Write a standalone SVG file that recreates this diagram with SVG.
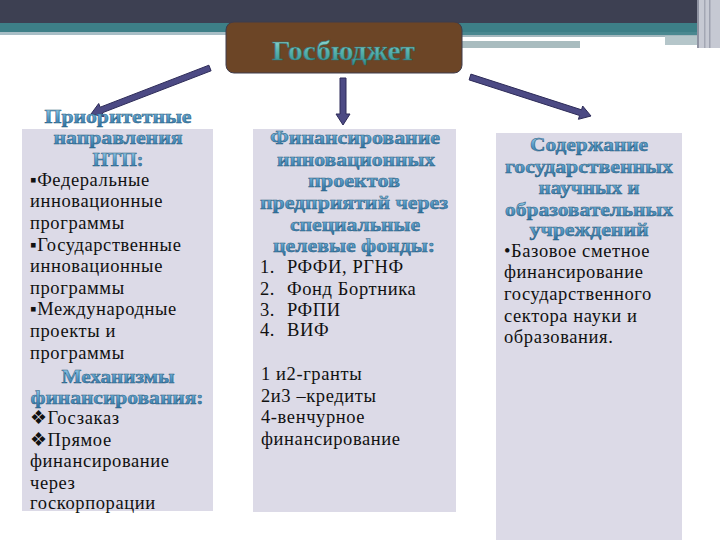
<svg xmlns="http://www.w3.org/2000/svg" width="720" height="540" viewBox="0 0 720 540">
<defs>
<linearGradient id="hg" x1="0" y1="0" x2="0" y2="1">
<stop offset="0" stop-color="#a8dbf2"/>
<stop offset="0.5" stop-color="#5a9fcb"/>
<stop offset="1" stop-color="#2c6f9e"/>
</linearGradient>
<linearGradient id="tg" x1="0" y1="0" x2="0" y2="1">
<stop offset="0" stop-color="#9fe0da"/>
<stop offset="0.5" stop-color="#5ab3b0"/>
<stop offset="1" stop-color="#2f8a8a"/>
</linearGradient>
<style>
.panel{fill:#dcdae7}
.head{font-family:"Liberation Serif","Times New Roman",serif;font-weight:bold;font-size:19px;fill:url(#hg);stroke:#2a5d82;stroke-width:0.5;text-anchor:middle}
.body{font-family:"Liberation Serif","Times New Roman",serif;font-size:18.5px;letter-spacing:0.6px;fill:#111}
.arrow{fill:#4c4a84;stroke:#2d2b58;stroke-width:1}
</style>
</defs>
<rect width="720" height="540" fill="#ffffff"/>
<!-- header bands -->
<rect x="0" y="0" width="720" height="23" fill="#3d4052"/>
<rect x="0" y="23" width="697" height="10" fill="#3d7f87"/>
<rect x="0" y="32" width="462" height="3" fill="#a8bec6"/>
<rect x="462" y="32" width="235" height="3" fill="#4a8890"/>
<rect x="462" y="35" width="235" height="2" fill="#a4b8be"/>
<rect x="462" y="41" width="118" height="7" fill="#a9bcbf"/>
<rect x="665" y="36" width="32" height="9" fill="#b5c6ca"/>
<rect x="697" y="0" width="23" height="48" fill="#c6c9d3"/>
<rect x="697" y="0" width="2" height="48" fill="#8f93a2"/>
<rect x="704" y="0" width="1.5" height="48" fill="#a3a7b4"/>
<rect x="709" y="0" width="1.5" height="48" fill="#9ea2b0"/>

<g id="connectors">
<polygon class="arrow" points="208.9,65.2 100.2,107.2 98.7,103.5 91,114 103.8,116.6 102.3,112.8 211.1,70.8"/>
<polygon class="arrow" points="340,78 340,114 336,114 343,125 350,114 346,114 346,78"/>
<polygon class="arrow" points="469.1,79.9 579.6,115.5 578.4,119.3 591,116 582.7,106 581.5,109.8 470.9,74.1"/>
</g>

<g id="gosbudget">
<rect x="226" y="22" width="236" height="51" rx="8" fill="#6c4526" stroke="#3f3c4c" stroke-width="1"/>
<text x="343.5" y="60" text-anchor="middle" font-family="Liberation Serif, serif" font-weight="bold" font-size="27" fill="url(#tg)" stroke="#2a6b6b" stroke-width="0.5" textLength="143" lengthAdjust="spacingAndGlyphs">Госбюджет</text>
</g>

<g id="left-panel">
<rect class="panel" x="22" y="129" width="191" height="382"/>
<text class="head" x="118" y="123" textLength="147" lengthAdjust="spacingAndGlyphs">Приоритетные</text>
<text class="head" x="118" y="144" textLength="129" lengthAdjust="spacingAndGlyphs">направления</text>
<text class="head" x="118" y="166" textLength="51" lengthAdjust="spacingAndGlyphs">НТП:</text>
<text class="body" x="30" y="186">▪Федеральные</text>
<text class="body" x="30" y="207">инновационные</text>
<text class="body" x="30" y="229">программы</text>
<text class="body" x="30" y="251">▪Государственные</text>
<text class="body" x="30" y="272">инновационные</text>
<text class="body" x="30" y="294">программы</text>
<text class="body" x="30" y="315">▪Международные</text>
<text class="body" x="30" y="337">проекты и</text>
<text class="body" x="30" y="359">программы</text>
<text class="head" x="118" y="383" textLength="113" lengthAdjust="spacingAndGlyphs">Механизмы</text>
<text class="head" x="117" y="404" textLength="173" lengthAdjust="spacingAndGlyphs">финансирования:</text>
<text class="body" x="30" y="424">❖Госзаказ</text>
<text class="body" x="30" y="446">❖Прямое</text>
<text class="body" x="30" y="467">финансирование</text>
<text class="body" x="30" y="489">через</text>
<text class="body" x="30" y="509">госкорпорации</text>
</g>

<g id="middle-panel">
<rect class="panel" x="253" y="129" width="203" height="383"/>
<text class="head" x="355" y="144" textLength="170" lengthAdjust="spacingAndGlyphs">Финансирование</text>
<text class="head" x="356" y="166" textLength="158" lengthAdjust="spacingAndGlyphs">инновационных</text>
<text class="head" x="354" y="187" textLength="92" lengthAdjust="spacingAndGlyphs">проектов</text>
<text class="head" x="354" y="209" textLength="188" lengthAdjust="spacingAndGlyphs">предприятий через</text>
<text class="head" x="355" y="231" textLength="130" lengthAdjust="spacingAndGlyphs">специальные</text>
<text class="head" x="354" y="252" textLength="162" lengthAdjust="spacingAndGlyphs">целевые фонды:</text>
<text class="body" x="260" y="273">1.</text><text class="body" x="287" y="273">РФФИ, РГНФ</text>
<text class="body" x="260" y="295">2.</text><text class="body" x="287" y="295">Фонд Бортника</text>
<text class="body" x="260" y="316">3.</text><text class="body" x="287" y="316">РФПИ</text>
<text class="body" x="260" y="336">4.</text><text class="body" x="287" y="336">ВИФ</text>
<text class="body" x="261" y="380">1 и2-гранты</text>
<text class="body" x="261" y="402">2и3 –кредиты</text>
<text class="body" x="261" y="423">4-венчурное</text>
<text class="body" x="261" y="445">финансирование</text>
</g>

<g id="right-panel">
<rect class="panel" x="496" y="133" width="186" height="407"/>
<text class="head" x="589" y="151" textLength="118" lengthAdjust="spacingAndGlyphs">Содержание</text>
<text class="head" x="589" y="173" textLength="168" lengthAdjust="spacingAndGlyphs">государственных</text>
<text class="head" x="589" y="194" textLength="101" lengthAdjust="spacingAndGlyphs">научных и</text>
<text class="head" x="589" y="216" textLength="168" lengthAdjust="spacingAndGlyphs">образовательных</text>
<text class="head" x="589" y="236" textLength="119" lengthAdjust="spacingAndGlyphs">учреждений</text>
<text class="body" x="504" y="257">•Базовое сметное</text>
<text class="body" x="504" y="278">финансирование</text>
<text class="body" x="504" y="300">государственного</text>
<text class="body" x="504" y="322">сектора науки и</text>
<text class="body" x="504" y="343">образования.</text>
</g>
</svg>
